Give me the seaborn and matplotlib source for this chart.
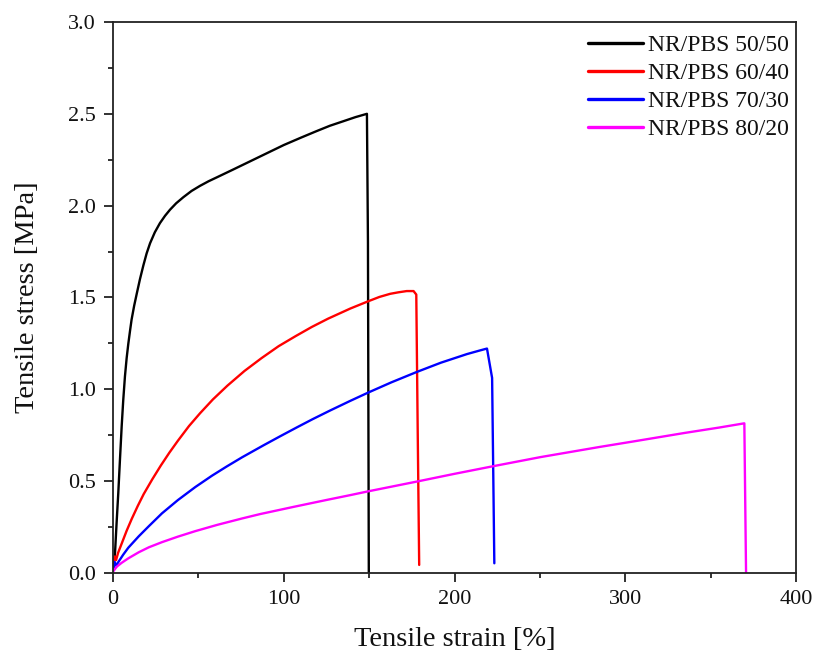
import numpy as np
import pandas as pd
import matplotlib
matplotlib.use("Agg")
import matplotlib.pyplot as plt
from matplotlib.ticker import MultipleLocator, FormatStrFormatter
import seaborn as sns

# Tensile stress-strain curves of NR/PBS blends
labels = ["NR/PBS 50/50", "NR/PBS 60/40", "NR/PBS 70/30", "NR/PBS 80/20"]
colors = ["#000000", "#ff0000", "#0000ff", "#ff00ff"]

strain_50 = [0.3, 0.6, 1.2, 2.1, 3.1, 4.1, 5.1, 6.0, 7.0, 8.0, 9.0, 10.0, 10.9, 12.4,
             13.9, 15.8, 17.8, 19.7, 21.7, 24.5, 27.5, 30.5, 33.4, 37.0, 41.2, 46.0,
             51.0, 56.0, 61.0, 70.0, 80.0, 90.0, 100.0, 110.0, 119.0, 127.0, 135.0,
             142.0, 148.7, 149.3, 149.8]
stress_50 = [0.03, 0.07, 0.11, 0.27, 0.435, 0.62, 0.80, 0.94, 1.07, 1.17, 1.25, 1.32, 1.38,
             1.455, 1.52, 1.60, 1.675, 1.74, 1.795, 1.855, 1.905, 1.945, 1.978, 2.013, 2.046,
             2.08, 2.108, 2.133, 2.155, 2.195, 2.24, 2.285, 2.33, 2.37, 2.405, 2.435, 2.46,
             2.482, 2.50, 1.80, 0.0]

strain_60 = [0.4, 1.0, 1.8, 3.0, 5.5, 8.0, 11.0, 14.5, 18.0, 23.0, 28.0, 33.0, 38.0,
             44.5, 51.0, 58.5, 67.0, 77.0, 87.0, 97.0, 107.0, 116.5, 126.0, 139.0,
             149.6, 156.0, 162.3, 167.0, 172.0, 176.0, 177.6, 178.4, 179.3]
stress_60 = [0.05, 0.09, 0.07, 0.11, 0.17, 0.23, 0.295, 0.365, 0.43, 0.51, 0.585, 0.655, 0.72,
             0.80, 0.87, 0.945, 1.02, 1.10, 1.17, 1.235, 1.29, 1.34, 1.385, 1.44,
             1.48, 1.503, 1.52, 1.528, 1.535, 1.535, 1.516, 0.80, 0.044]

strain_70 = [0.4, 1.0, 1.8, 3.3, 6.0, 9.0, 15.1, 21.0, 28.7, 38.0, 48.2, 58.0, 66.6,
             75.6, 88.1, 98.0, 107.7, 117.0, 127.2, 138.9, 149.6, 163.0, 178.0, 192.0,
             207.3, 215.0, 219.0, 222.0, 222.6, 223.3]
stress_70 = [0.03, 0.06, 0.04, 0.062, 0.10, 0.138, 0.20, 0.255, 0.325, 0.397, 0.468, 0.53,
             0.58, 0.63, 0.695, 0.745, 0.793, 0.838, 0.885, 0.937, 0.983, 1.038, 1.095, 1.145,
             1.192, 1.212, 1.222, 1.062, 0.60, 0.053]

strain_80 = [0.3, 1.0, 2.3, 5.0, 9.0, 15.1, 21.0, 28.7, 38.0, 48.2, 61.0, 75.6, 86.2,
             105.7, 125.2, 138.9, 149.6, 163.0, 178.0, 200.0, 222.9, 250.3, 285.4, 305.2,
             335.0, 355.0, 369.7, 370.2, 370.7]
stress_80 = [0.01, 0.02, 0.035, 0.055, 0.08, 0.113, 0.14, 0.168, 0.198, 0.228, 0.262, 0.297,
             0.321, 0.36, 0.398, 0.424, 0.445, 0.47, 0.498, 0.54, 0.582, 0.631, 0.687, 0.717,
             0.763, 0.792, 0.815, 0.40, 0.0]

strains = [strain_50, strain_60, strain_70, strain_80]
stresses = [stress_50, stress_60, stress_70, stress_80]

frames = []
for lab, s, t in zip(labels, strains, stresses):
    frames.append(pd.DataFrame({"strain": s, "stress": t, "sample": lab}))
df = pd.concat(frames, ignore_index=True)

sns.set_theme(style="ticks")
plt.rcParams["font.family"] = ["Liberation Serif", "DejaVu Serif"]
plt.rcParams["axes.linewidth"] = 1.3
plt.rcParams["lines.solid_joinstyle"] = "round"

fig = plt.figure(figsize=(8.14, 6.6), dpi=100)
ax = fig.add_axes([0.1388, 0.1318, 0.978 - 0.1388, 0.9667 - 0.1318])

sns.lineplot(data=df, x="strain", y="stress", hue="sample", palette=colors,
             estimator=None, sort=False, linewidth=1.7, ax=ax)

ax.set_xlim(0, 400)
ax.set_ylim(0, 3.0)
ax.xaxis.set_major_locator(MultipleLocator(100))
ax.xaxis.set_minor_locator(MultipleLocator(50))
ax.yaxis.set_major_locator(MultipleLocator(0.5))
ax.yaxis.set_minor_locator(MultipleLocator(0.25))
ax.yaxis.set_major_formatter(FormatStrFormatter("%.1f"))

ax.tick_params(axis="both", which="major", direction="out", length=6.5, width=1.3,
               labelsize=16, color="#222222", labelcolor="#111111", pad=6)
ax.tick_params(axis="both", which="minor", direction="out", length=3.5, width=1.3,
               color="#222222")
for sp in ax.spines.values():
    sp.set_visible(True)
    sp.set_color("#222222")

ax.set_xlabel("Tensile strain [%]", fontsize=20.5, color="#111111", labelpad=13)
ax.set_ylabel("Tensile stress [MPa]", fontsize=20.5, color="#111111", labelpad=20)

leg = ax.legend(loc="upper right", bbox_to_anchor=(1.0, 0.99), frameon=False,
                fontsize=17, handlelength=2.33, handletextpad=0.21,
                labelspacing=0.27, borderaxespad=0.0, borderpad=0.3)
for line in leg.get_lines():
    line.set_linewidth(2.4)
for txt in leg.get_texts():
    txt.set_color("#111111")

fig.savefig("out.png", dpi=100)
